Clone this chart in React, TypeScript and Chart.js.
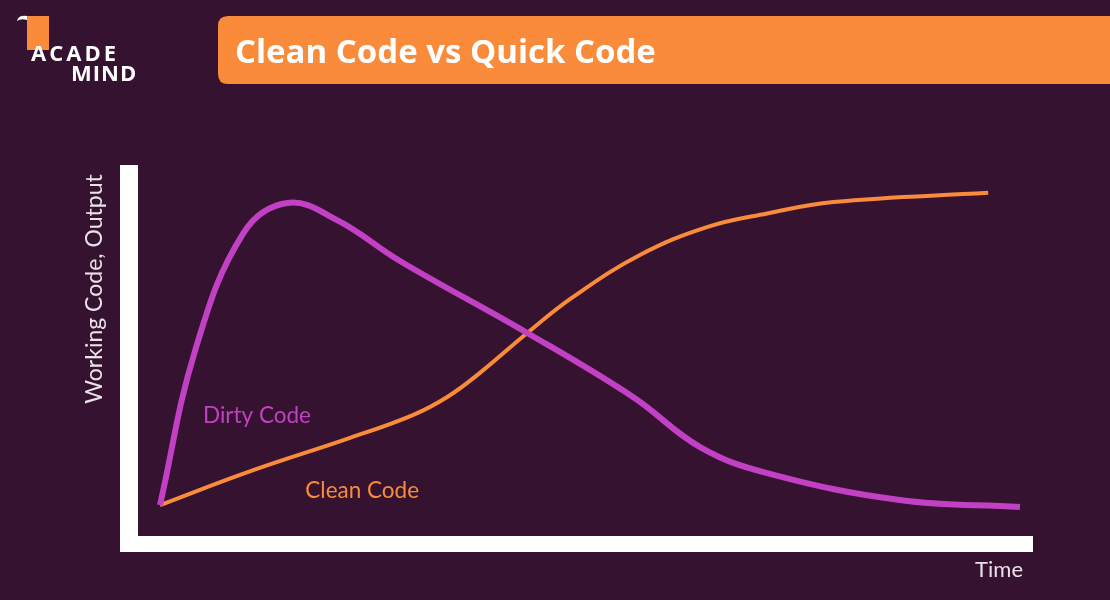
import React, { useEffect, useRef } from "react";
import { Chart, registerables } from "chart.js";

Chart.register(...registerables);

const TITLE = "Clean Code vs Quick Code";
const X_LABEL = "Time";
const Y_LABEL = "Working Code, Output";
const SERIES_NAMES = ["Dirty Code", "Clean Code"];

// time (0-100) and output (0-100)
const dirtyTime = [0, 4.1, 9.7, 14.8, 20.6, 27.9, 42.7, 55, 62.8, 70.6, 86, 100];
const dirtyOutput = [0.6, 49.5, 86.4, 95.9, 90.5, 77.6, 54.9, 34.7, 18.9, 10.7, 2.2, 0];
const cleanTime = [0, 10.2, 22.1, 29.4, 33.4, 37.2, 42.7, 48, 55.8, 63.6, 70.6, 78.3, 96.3];
const cleanOutput = [0.6, 11.0, 21.8, 29.0, 34.7, 42.3, 54.9, 66.2, 79.5, 88.3, 92.6, 96.2, 99.1];

const BG = "#35122f";
const ORANGE = "#f98b3a";
const MAGENTA = "#c140c4";
const AXIS_TEXT = "#e9e1e8";

const toPoints = (xs: number[], ys: number[]) => xs.map((x, i) => ({ x, y: ys[i] }));

function roundRect(ctx: CanvasRenderingContext2D, x: number, y: number, w: number, h: number, r: number) {
  ctx.beginPath();
  ctx.moveTo(x + r, y);
  ctx.lineTo(x + w - r, y);
  ctx.quadraticCurveTo(x + w, y, x + w, y + r);
  ctx.lineTo(x + w, y + h - r);
  ctx.quadraticCurveTo(x + w, y + h, x + w - r, y + h);
  ctx.lineTo(x + r, y + h);
  ctx.quadraticCurveTo(x, y + h, x, y + h - r);
  ctx.lineTo(x, y + r);
  ctx.quadraticCurveTo(x, y, x + r, y);
  ctx.closePath();
}

const slidePlugin = {
  id: "slide",
  beforeDraw(chart: any) {
    const { ctx, width, height, chartArea } = chart;
    const { left, right, top, bottom } = chartArea;
    ctx.save();
    ctx.fillStyle = BG;
    ctx.fillRect(0, 0, width, height);

    // header bar
    ctx.fillStyle = ORANGE;
    roundRect(ctx, 218, 16, 920, 68, 10);
    ctx.fill();
    ctx.fillStyle = "#ffffff";
    ctx.font = "bold 33px 'Open Sans'";
    ctx.textAlign = "left";
    ctx.textBaseline = "alphabetic";
    ctx.fillText(TITLE, 235, 63);

    // logo
    ctx.fillStyle = ORANGE;
    ctx.fillRect(27, 16, 22, 34);
    ctx.fillStyle = "#ffffff";
    ctx.beginPath();
    ctx.moveTo(17, 21);
    ctx.quadraticCurveTo(18, 15, 27, 16);
    ctx.lineTo(27, 20);
    ctx.quadraticCurveTo(21, 18, 17, 21);
    ctx.closePath();
    ctx.fill();
    ctx.font = "bold 22px 'Open Sans'";
    (ctx as any).letterSpacing = "3px";
    ctx.fillText("ACADE", 31, 61);
    (ctx as any).letterSpacing = "1px";
    ctx.fillText("MIND", 71, 81);
    (ctx as any).letterSpacing = "0px";

    // axes bars
    ctx.fillStyle = "#ffffff";
    ctx.fillRect(left - 40, top - 25, 18, bottom + 45 - (top - 25));
    ctx.fillRect(left - 40, bottom + 29, right + 13 - (left - 40), 16);

    // axis titles
    ctx.fillStyle = AXIS_TEXT;
    ctx.font = "22px Lato";
    ctx.textAlign = "right";
    ctx.fillText(X_LABEL, right + 3, bottom + 70);
    ctx.save();
    ctx.translate(left - 65, top + 99);
    ctx.rotate(-Math.PI / 2);
    ctx.textAlign = "center";
    ctx.textBaseline = "middle";
    ctx.font = "23px Lato";
    ctx.fillText(Y_LABEL, 0, 0);
    ctx.restore();
    ctx.restore();
  },
  afterDatasetsDraw(chart: any) {
    const { ctx, scales } = chart;
    const xs = scales.x;
    const ys = scales.y;
    ctx.save();
    ctx.font = "22.5px Lato";
    ctx.textAlign = "left";
    ctx.textBaseline = "alphabetic";
    ctx.fillStyle = MAGENTA;
    ctx.fillText(SERIES_NAMES[0], xs.getPixelForValue(5), ys.getPixelForValue(26.5));
    ctx.fillStyle = ORANGE;
    ctx.fillText(SERIES_NAMES[1], xs.getPixelForValue(16.9), ys.getPixelForValue(2.8));
    ctx.restore();
  },
};

export default function App() {
  const ref = useRef<HTMLCanvasElement | null>(null);
  useEffect(() => {
    if (!ref.current) return;
    const chart = new Chart(ref.current, {
      type: "line",
      data: {
        datasets: [
          {
            label: SERIES_NAMES[0],
            data: toPoints(dirtyTime, dirtyOutput),
            borderColor: MAGENTA,
            borderWidth: 6,
            pointRadius: 0,
            tension: 0.4,
            clip: false as any,
            borderCapStyle: "butt",
          },
          {
            label: SERIES_NAMES[1],
            data: toPoints(cleanTime, cleanOutput),
            borderColor: ORANGE,
            borderWidth: 4,
            pointRadius: 0,
            tension: 0.4,
            clip: false as any,
            borderCapStyle: "butt",
          },
        ],
      },
      options: {
        animation: false,
        responsive: false,
        maintainAspectRatio: false,
        events: [],
        layout: { padding: { left: 160, right: 90, top: 190, bottom: 93 } },
        plugins: { legend: { display: false }, tooltip: { enabled: false }, title: { display: false } },
        scales: {
          x: { type: "linear", min: 0, max: 100, display: false },
          y: { type: "linear", min: 0, max: 100, display: false },
        },
      },
      plugins: [slidePlugin],
    });
    return () => chart.destroy();
  }, []);
  return (
    <div style={{ position: "fixed", left: 0, top: 0, width: 1110, height: 600, background: BG }}>
      <canvas ref={ref} width={1110} height={600} style={{ display: "block" }} />
    </div>
  );
}
